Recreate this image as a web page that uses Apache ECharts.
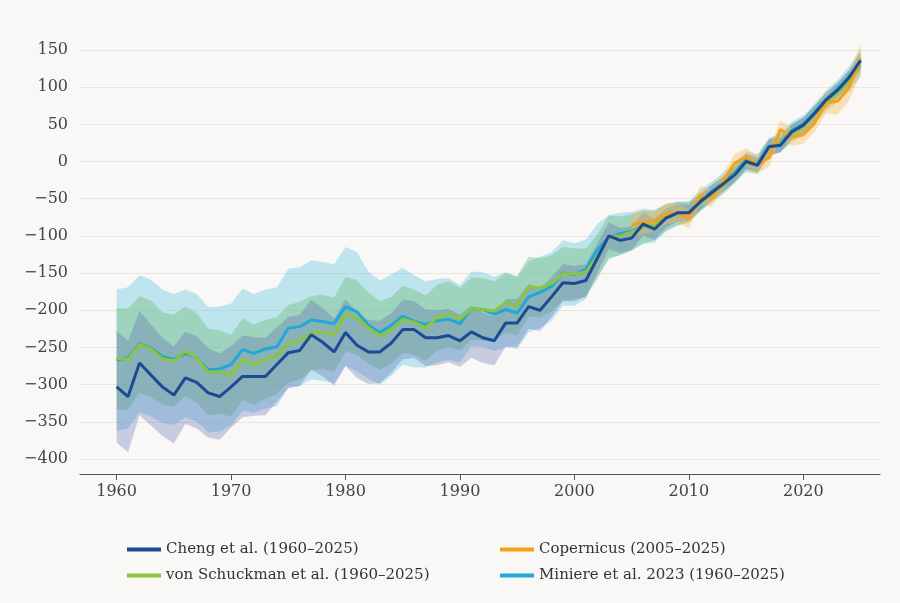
<!DOCTYPE html>
<html>
<head>
<meta charset="utf-8">
<script src="https://cdn.jsdelivr.net/npm/echarts@6/dist/echarts.min.js"></script>
<style>
  html, body { margin: 0; padding: 0; background: #f9f8f6; }
  #chart { width: 900px; height: 603px; }
</style>
</head>
<body>
<div id="chart"></div>
<script>
// years 1960-2025
var years = [];
for (var y = 1960; y <= 2025; y++) years.push(y);
var copYears = years.slice(45); // 2005-2025

var cheng = [-303,-316,-271,-287,-303,-314,-291,-297,-311,-316,
  -303,-289,-289,-289,-273,-257,-254,-233,-243,-256,
  -230,-247,-256,-256,-244,-226,-226,-237,-237,-234,
  -241,-229,-237,-241,-217,-217,-195,-200,-182,-163,
  -164,-160,-130,-100,-106,-103,-84,-91,-76,-69,
  -69,-54,-42,-30,-18,0,-5,20,22,40,
  49,65,83,96,113,136];
var chengErr = [75,75,70,68,66,65,62,62,60,58,
  55,55,53,52,50,48,48,47,46,45,
  45,44,43,42,40,40,38,38,37,36,
  35,35,34,33,32,32,30,28,27,25,
  24,22,20,18,17,16,15,14,13,12,
  11,11,10,10,10,10,10,10,10,10,
  10,10,10,10,10,12];

var schuckmann = [-265,-266,-246,-252,-265,-268,-255,-264,-283,-283,
  -288,-266,-273,-266,-261,-245,-241,-231,-229,-233,
  -205,-210,-224,-234,-227,-212,-216,-224,-210,-205,
  -212,-198,-199,-201,-190,-194,-168,-170,-164,-151,
  -151,-149,-128,-101,-100,-95,-88,-86,-75,-70,
  -68,-55,-43,-32,-17,-2,-5,18,25,38,
  47,63,80,93,108,130];
var schuckmannErr = [68,68,65,65,62,62,60,60,58,56,
  55,55,54,53,52,52,52,50,50,50,
  50,50,48,46,45,45,44,44,44,44,
  42,42,42,40,40,40,40,40,38,36,
  34,32,30,28,26,24,22,20,18,16,
  14,12,12,12,12,12,12,12,12,12,
  12,12,12,12,14,16];

var miniere = [-267,-264,-245,-251,-262,-266,-258,-264,-280,-279,
  -273,-253,-258,-252,-249,-224,-222,-213,-215,-218,
  -195,-202,-220,-230,-220,-208,-215,-219,-214,-212,
  -218,-198,-199,-205,-199,-204,-182,-176,-168,-150,
  -152,-145,-119,-102,-97,-94,-87,-87,-76,-70,
  -68,-52,-40,-28,-15,2,-2,20,25,42,
  50,66,84,98,114,135];
var miniereErr = [95,95,92,92,90,88,86,86,84,84,
  82,82,80,80,80,80,80,80,80,80,
  80,80,72,70,68,65,62,58,56,55,
  52,50,50,50,50,48,48,48,46,44,
  42,40,35,30,28,26,24,22,18,16,
  14,14,13,13,13,12,12,12,12,12,
  12,12,12,12,14,16];

var copernicus = [-85,-82,-80,-70,-69,-77,-45,-49,-27,-2,
  6,-4,5,43,33,36,52,79,81,100,139];
var copernicusErr = [15,15,14,14,13,13,12,12,12,12,
  12,12,12,12,12,12,12,14,18,18,20];

var xTicks = [1960, 1970, 1980, 1990, 2000, 2010, 2020];
var FONT = 'DejaVu Serif';

function pairs(xs, vals) {
  return xs.map(function (x, i) { return [x, vals[i]]; });
}
// uncertainty band as a polygon through the axes' own coordinates
function band(xs, vals, errs, color) {
  return {
    type: 'custom', silent: true, clip: false, data: [[xs[0], vals[0]]],
    renderItem: function (params, api) {
      var pts = [];
      for (var i = 0; i < xs.length; i++) pts.push(api.coord([xs[i], vals[i] + errs[i]]));
      for (var j = xs.length - 1; j >= 0; j--) pts.push(api.coord([xs[j], vals[j] - errs[j]]));
      return { type: 'polygon', shape: { points: pts }, style: { fill: color } };
    }
  };
}
function line(name, xs, vals, color, w) {
  return { name: name, type: 'line', data: pairs(xs, vals), symbol: 'none',
    lineStyle: { color: color, width: w || 3 }, itemStyle: { color: color }, clip: false };
}

var C_CHENG = '#1d4a94', C_SCH = '#8cc43f', C_MIN = '#1fa9d3', C_COP = '#f5a21b';

var series = [
  band(years, miniere, miniereErr, 'rgba(110,200,225,0.42)'),
  band(years, schuckmann, schuckmannErr, 'rgba(110,185,120,0.40)'),
  band(years, cheng, chengErr, 'rgba(90,100,175,0.30)'),
  band(copYears, copernicus, copernicusErr, 'rgba(250,190,90,0.40)'),
  line('Miniere et al. 2023 (1960–2025)', years, miniere, C_MIN),
  line('von Schuckman et al. (1960–2025)', years, schuckmann, C_SCH),
  line('Copernicus (2005–2025)', copYears, copernicus, C_COP),
  line('Cheng et al. (1960–2025)', years, cheng, C_CHENG)
];

var legendText = { fontFamily: FONT, fontSize: 15, color: '#333' };
var option = {
  backgroundColor: '#f9f8f6',
  animation: false,
  grid: { left: 80, right: 20, top: 50, bottom: 144 },
  xAxis: {
    type: 'value', min: 1956.8, max: 2026.7, offset: 15,
    axisLine: { show: true, onZero: false, lineStyle: { color: '#555', width: 1.2 } },
    axisTick: { show: true, customValues: xTicks, length: 6, lineStyle: { color: '#555' } },
    axisLabel: { customValues: xTicks, fontFamily: FONT, fontSize: 16, color: '#444', margin: 10,
      formatter: function (v) { return String(v); } },
    splitLine: { show: false }
  },
  yAxis: {
    type: 'value', min: -400, max: 150, interval: 50,
    axisLine: { show: false }, axisTick: { show: false },
    axisLabel: { fontFamily: FONT, fontSize: 16, color: '#444', margin: 12,
      formatter: function (v) { return v < 0 ? '\u2212' + (-v) : String(v); } },
    splitLine: { lineStyle: { color: '#e8e6e2', width: 1 } }
  },
  legend: [
    { left: 122, top: 537, orient: 'vertical', itemGap: 11, itemWidth: 34, itemHeight: 4,
      data: ['Cheng et al. (1960–2025)', 'von Schuckman et al. (1960–2025)'],
      textStyle: legendText, icon: 'rect' },
    { left: 495, top: 537, orient: 'vertical', itemGap: 11, itemWidth: 34, itemHeight: 4,
      data: ['Copernicus (2005–2025)', 'Miniere et al. 2023 (1960–2025)'],
      textStyle: legendText, icon: 'rect' }
  ],
  series: series
};

echarts.init(document.getElementById('chart')).setOption(option);
</script>
</body>
</html>
